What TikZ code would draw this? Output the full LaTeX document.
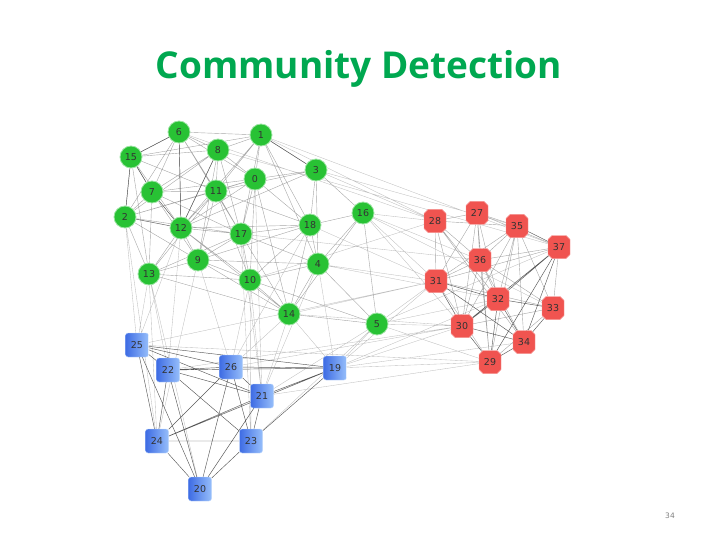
\documentclass[tikz,border=0pt]{standalone}
\usepackage{fontspec}
\setmainfont{Open Sans}
\setsansfont{DejaVu Sans}
\usetikzlibrary{shapes.misc, backgrounds}

\definecolor{ttl}{RGB}{0,168,80}
\definecolor{grn}{RGB}{40,194,52}
\definecolor{bl1}{RGB}{62,108,228}
\definecolor{bl2}{RGB}{150,190,250}
\definecolor{rd}{RGB}{240,84,80}

\begin{document}
\begin{tikzpicture}[x=1pt, y=-1pt,
    g/.style={circle, draw=grn!45, line width=0.8pt, fill=grn, minimum size=22pt, inner sep=0pt, font=\sffamily\fontsize{9.5}{10}\selectfont, text=black!80},
    b/.style={rectangle, rounded corners=2.5pt, left color=bl1, right color=bl2, draw=bl2!60, minimum width=23pt, minimum height=24pt, inner sep=0pt, font=\sffamily\fontsize{9.5}{10}\selectfont, text=black!80},
    r/.style={chamfered rectangle, chamfered rectangle xsep=2pt, chamfered rectangle ysep=2pt, fill=rd, draw=rd!60, minimum width=22pt, minimum height=23pt, inner sep=0pt, font=\sffamily\fontsize{9.5}{10}\selectfont, text=black!80},
    e/.style={gray!70, line width=0.4pt},
    ed/.style={black!65, line width=0.45pt},
    ex/.style={gray!50, line width=0.35pt},
]
\useasboundingbox (0,0) rectangle (720,540);

\node[font=\bfseries\fontsize{37}{42}\selectfont, text=ttl, anchor=base] (title) at (359,79) {Community Detection};
\node[font=\sffamily\fontsize{7.5}{8}\selectfont, text=gray] (page) at (670,516) {34};

% green community
\node[g] (n6) at (179,132) {6};
\node[g] (n1) at (261,135) {1};
\node[g] (n8) at (218,150) {8};
\node[g] (n15) at (131,157) {15};
\node[g] (n3) at (316,170) {3};
\node[g] (n0) at (255,179) {0};
\node[g] (n7) at (152,192) {7};
\node[g] (n11) at (216,191) {11};
\node[g] (n2) at (125,217) {2};
\node[g] (n12) at (181,228) {12};
\node[g] (n17) at (241,234) {17};
\node[g] (n18) at (310,225) {18};
\node[g] (n16) at (363,213) {16};
\node[g] (n9) at (198,260) {9};
\node[g] (n13) at (149,274) {13};
\node[g] (n4) at (318,264) {4};
\node[g] (n10) at (250,280) {10};
\node[g] (n14) at (289,314) {14};
\node[g] (n5) at (377,324) {5};

% blue community
\node[b] (n25) at (137,345) {25};
\node[b] (n22) at (168,370) {22};
\node[b] (n26) at (231,367) {26};
\node[b] (n19) at (335,368) {19};
\node[b] (n21) at (262,396) {21};
\node[b] (n24) at (157,441) {24};
\node[b] (n23) at (251,441) {23};
\node[b] (n20) at (200,489) {20};

% red community
\node[r] (n28) at (435,221) {28};
\node[r] (n27) at (477,213) {27};
\node[r] (n35) at (517,226) {35};
\node[r] (n37) at (559,247) {37};
\node[r] (n36) at (480,260) {36};
\node[r] (n31) at (436,281) {31};
\node[r] (n32) at (498,299) {32};
\node[r] (n33) at (553,308) {33};
\node[r] (n30) at (462,326) {30};
\node[r] (n34) at (524,342) {34};
\node[r] (n29) at (490,362) {29};

\begin{scope}[on background layer]
% between communities
\draw[ex] (n6) -- (n28) (n8) -- (n37) (n1) -- (n28) (n3) -- (n28) (n3) -- (n35) (n1) -- (n37)
  (n16) -- (n28) (n16) -- (n31) (n16) -- (n36) (n16) -- (n30) (n16) -- (n33) (n18) -- (n31)
  (n4) -- (n31) (n4) -- (n32) (n5) -- (n31) (n5) -- (n30) (n5) -- (n29) (n5) -- (n32) (n5) -- (n37)
  (n14) -- (n30) (n14) -- (n31) (n10) -- (n28) (n17) -- (n36)
  (n19) -- (n30) (n19) -- (n29) (n19) -- (n31) (n19) -- (n34) (n19) -- (n32) (n26) -- (n30)
  (n22) -- (n30) (n25) -- (n29) (n21) -- (n29) (n25) -- (n31)
  (n13) -- (n25) (n2) -- (n25) (n13) -- (n22) (n12) -- (n25) (n9) -- (n26) (n10) -- (n26)
  (n10) -- (n21) (n14) -- (n26) (n14) -- (n19) (n14) -- (n21) (n5) -- (n19) (n5) -- (n21) (n4) -- (n19)
  (n17) -- (n23) (n10) -- (n23) (n12) -- (n22) (n9) -- (n24) (n13) -- (n24) (n2) -- (n24)
  (n17) -- (n21) (n0) -- (n21) (n13) -- (n20) (n18) -- (n26) (n5) -- (n23) (n4) -- (n21);
% inside green
\draw[e] (n6) -- (n15) (n6) -- (n8) (n6) -- (n1) (n6) -- (n7) (n6) -- (n2) (n6) -- (n12)
  (n6) -- (n11) (n6) -- (n0) (n6) -- (n17) (n15) -- (n8) (n15) -- (n7) (n15) -- (n2)
  (n15) -- (n12) (n15) -- (n13) (n15) -- (n1) (n15) -- (n11) (n8) -- (n1) (n8) -- (n7)
  (n8) -- (n11) (n8) -- (n12) (n8) -- (n0) (n8) -- (n2) (n8) -- (n17) (n8) -- (n9)
  (n1) -- (n0) (n1) -- (n3) (n1) -- (n11) (n1) -- (n12) (n1) -- (n18) (n1) -- (n4) (n1) -- (n17)
  (n3) -- (n0) (n3) -- (n18) (n3) -- (n16) (n3) -- (n11) (n3) -- (n12) (n3) -- (n4)
  (n0) -- (n11) (n0) -- (n17) (n0) -- (n12) (n0) -- (n10) (n0) -- (n18) (n0) -- (n14)
  (n0) -- (n7) (n0) -- (n2) (n7) -- (n2) (n7) -- (n11) (n7) -- (n13) (n7) -- (n9) (n7) -- (n17)
  (n11) -- (n12) (n11) -- (n17) (n11) -- (n9) (n11) -- (n2) (n11) -- (n13) (n11) -- (n10)
  (n11) -- (n18) (n2) -- (n13) (n2) -- (n9) (n2) -- (n17) (n12) -- (n17) (n12) -- (n9)
  (n12) -- (n13) (n12) -- (n10) (n12) -- (n18) (n12) -- (n14) (n17) -- (n18) (n17) -- (n10)
  (n17) -- (n9) (n17) -- (n4) (n17) -- (n14) (n17) -- (n13) (n18) -- (n16) (n18) -- (n4)
  (n18) -- (n14) (n18) -- (n9) (n18) -- (n10) (n16) -- (n4) (n16) -- (n5) (n16) -- (n14)
  (n9) -- (n13) (n9) -- (n10) (n9) -- (n14) (n9) -- (n4) (n13) -- (n10) (n13) -- (n14)
  (n4) -- (n14) (n4) -- (n5) (n4) -- (n10) (n10) -- (n14) (n10) -- (n5) (n14) -- (n5);
\draw[ed] (n6) -- (n15) (n15) -- (n7) (n7) -- (n12) (n15) -- (n2) (n2) -- (n12) (n6) -- (n12)
  (n8) -- (n12) (n1) -- (n3);
% inside blue
\draw[ed] (n25) -- (n22) (n25) -- (n26) (n25) -- (n24) (n25) -- (n20) (n25) -- (n21) (n25) -- (n19)
  (n22) -- (n26) (n22) -- (n19) (n22) -- (n24) (n22) -- (n20) (n22) -- (n23) (n22) -- (n21)
  (n26) -- (n21) (n26) -- (n19) (n26) -- (n23) (n26) -- (n20) (n26) -- (n24)
  (n19) -- (n21) (n19) -- (n23) (n19) -- (n24) (n21) -- (n23) (n21) -- (n24) (n21) -- (n20)
  (n24) -- (n23) (n24) -- (n20) (n23) -- (n20);
% inside red
\draw[e] (n28) -- (n27) (n28) -- (n35) (n28) -- (n36) (n28) -- (n31) (n28) -- (n32) (n28) -- (n30)
  (n28) -- (n34) (n27) -- (n35) (n27) -- (n37) (n27) -- (n36) (n27) -- (n31) (n27) -- (n32)
  (n27) -- (n30) (n27) -- (n29) (n35) -- (n36) (n35) -- (n32) (n35) -- (n33) (n35) -- (n30)
  (n35) -- (n34) (n35) -- (n29) (n35) -- (n31) (n37) -- (n36) (n37) -- (n31) (n37) -- (n33)
  (n36) -- (n31) (n36) -- (n32) (n36) -- (n30) (n36) -- (n34) (n36) -- (n29) (n36) -- (n33)
  (n31) -- (n33) (n31) -- (n29) (n33) -- (n30) (n33) -- (n29);
\draw[ed] (n35) -- (n37) (n37) -- (n32) (n37) -- (n30) (n37) -- (n34) (n37) -- (n29)
  (n31) -- (n32) (n31) -- (n30) (n31) -- (n34) (n32) -- (n33) (n32) -- (n30) (n32) -- (n34)
  (n32) -- (n29) (n33) -- (n34) (n30) -- (n34) (n30) -- (n29) (n34) -- (n29);
\end{scope}
\end{tikzpicture}
\end{document}
